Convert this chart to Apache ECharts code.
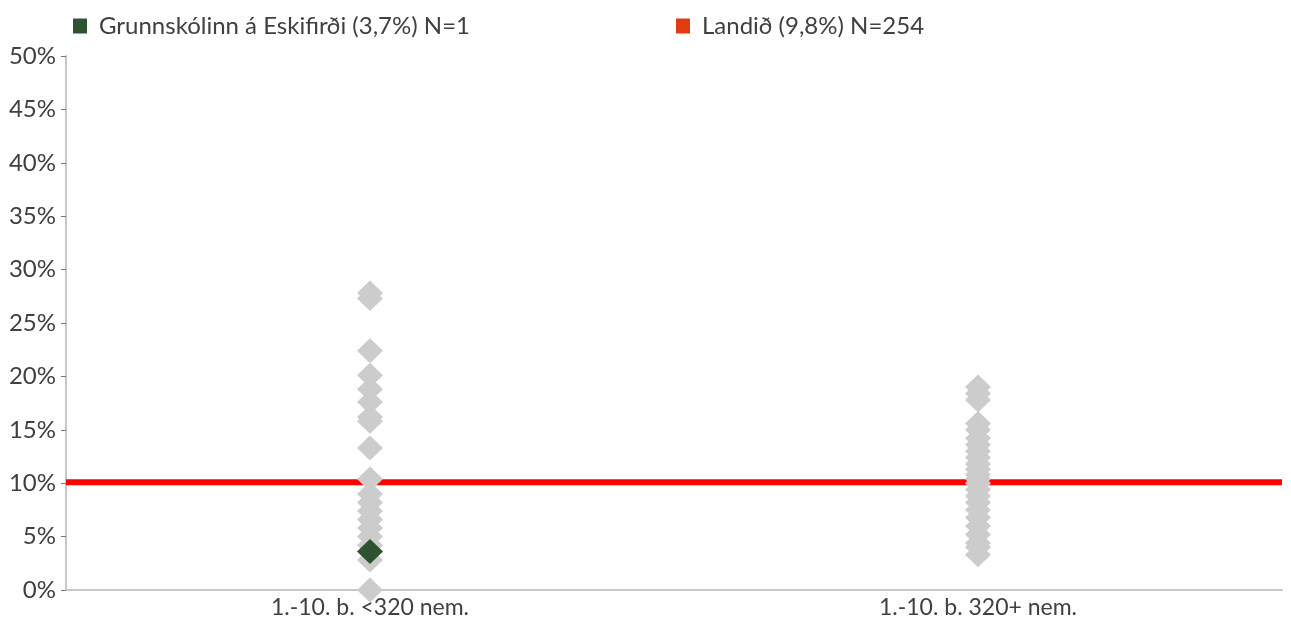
<!DOCTYPE html>
<html>
<head>
<meta charset="utf-8">
<script src="https://cdn.jsdelivr.net/npm/echarts@6/dist/echarts.min.js"></script>
<style>
html,body{margin:0;padding:0;background:#fff;}
#chart{width:1291px;height:621px;}
</style>
</head>
<body>
<div id="chart"></div>
<script>
// flokkar á x-ás
var categories = ['1.-10. b. <320 nem.', '1.-10. b. 320+ nem.'];

// aðrir skólar (gráir tíglar), hlutfall í %
var smallSchools = [27.8, 27.3, 22.4, 20.1, 18.8, 17.6, 16.2, 15.8, 13.3, 10.4, 9.0, 8.2, 7.4, 6.6, 5.8, 5.0, 4.2, 2.8, 0.0];
var largeSchools = [19.0, 18.4, 17.8, 15.6, 15.0, 14.2, 13.6, 13.0, 12.4, 11.8, 11.3, 10.8, 10.4, 10.0, 9.4, 8.8, 8.2, 7.5, 6.8, 6.0, 5.2, 4.4, 4.0, 3.3];

// skólinn sjálfur
var schoolName = 'Grunnskólinn á Eskifirði (3,7%) N=1';
var schoolPoint = [0, 3.6];

// landsmeðaltal
var countryName = 'Landið (9,8%) N=254';
var countryValue = 10.1;

var yTicks = {min: 0, max: 50, interval: 5};

var grayData = [];
smallSchools.forEach(function (v) { grayData.push([0, v]); });
largeSchools.forEach(function (v) { grayData.push([1, v]); });

var textColor = '#404040';
var font = 'Lato, "Noto Sans", sans-serif';

var chart = echarts.init(document.getElementById('chart'));
chart.setOption({
  animation: false,
  textStyle: {fontFamily: font},
  legend: [
    {
      left: 73, top: 14, padding: 0,
      data: [schoolName],
      icon: 'rect', itemWidth: 14, itemHeight: 15,
      textStyle: {color: textColor, fontSize: 24, fontFamily: font, padding: [0, 0, 0, 7]}
    },
    {
      left: 676, top: 14, padding: 0,
      data: [countryName],
      icon: 'rect', itemWidth: 14, itemHeight: 15,
      textStyle: {color: textColor, fontSize: 24, fontFamily: font, padding: [0, 0, 0, 7]}
    }
  ],
  grid: {left: 66, right: 9, top: 56, bottom: 31, containLabel: false},
  xAxis: [
    {
      type: 'category',
      data: categories,
      boundaryGap: true,
      axisLine: {lineStyle: {color: '#c8c8c8', width: 2}},
      axisTick: {show: false},
      axisLabel: {color: textColor, fontSize: 23, margin: 6, fontFamily: font}
    },
    {
      // falinn ás fyrir landslínuna yfir alla breiddina
      type: 'value', min: 0, max: 1, show: false
    }
  ],
  yAxis: {
    type: 'value',
    min: yTicks.min, max: yTicks.max, interval: yTicks.interval,
    axisLine: {show: true, lineStyle: {color: '#c8c8c8', width: 2}},
    axisTick: {show: true, length: 5, lineStyle: {color: '#777'}},
    splitLine: {show: false},
    axisLabel: {color: textColor, fontSize: 24, margin: 10, formatter: '{value}%', fontFamily: font}
  },
  series: [
    {
      name: countryName,
      type: 'line',
      xAxisIndex: 1,
      data: [[0, countryValue], [1, countryValue]],
      showSymbol: false,
      silent: true,
      itemStyle: {color: '#e03c14'},
      lineStyle: {color: '#ff0000', width: 6},
      z: 1
    },
    {
      name: 'Skólar',
      type: 'scatter',
      symbol: 'diamond',
      symbolSize: [26, 25],
      itemStyle: {color: '#cccccc', opacity: 1},
      data: grayData,
      zlevel: 1,
      z: 10
    },
    {
      name: schoolName,
      type: 'scatter',
      symbol: 'diamond',
      symbolSize: [26, 25],
      itemStyle: {color: '#2d5230', opacity: 1},
      data: [schoolPoint],
      zlevel: 1,
      z: 11
    }
  ]
});
</script>
</body>
</html>
